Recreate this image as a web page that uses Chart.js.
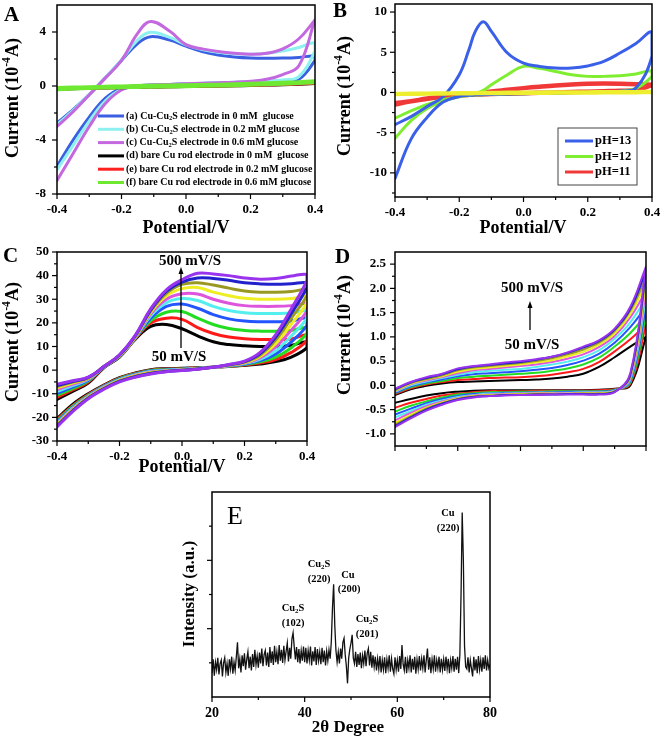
<!DOCTYPE html>
<html>
<head>
<meta charset="utf-8">
<script src="https://cdn.jsdelivr.net/npm/chart.js@4.4.1/dist/chart.umd.min.js"></script>
<style>
  html, body { margin: 0; padding: 0; background: #fff; overflow: hidden; width: 661px; height: 743px; }
  canvas { position: absolute; }
</style>
</head>
<body>
<canvas id="panelA" width="330" height="240" style="left:0;top:0"></canvas>
<canvas id="panelB" width="345" height="240" style="left:330px;top:0"></canvas>
<canvas id="panelC" width="330" height="235" style="left:0;top:240px"></canvas>
<canvas id="panelD" width="345" height="235" style="left:330px;top:240px"></canvas>
<canvas id="panelE" width="330" height="273" style="left:180px;top:470px"></canvas>
<script>
// ---- data ----
// potential grids (V)
const POT_A = [-0.4, -0.35, -0.3, -0.25, -0.2, -0.15, -0.11, -0.05, 0, 0.05, 0.1, 0.15, 0.2, 0.25, 0.3, 0.35, 0.4];
const POT_B = [-0.4, -0.35, -0.3, -0.25, -0.2, -0.17, -0.15, -0.125, -0.1, -0.05, 0, 0.05, 0.1, 0.15, 0.2, 0.25, 0.3, 0.35, 0.4];
const POT_CD = [-0.4, -0.35, -0.3, -0.25, -0.2, -0.15, -0.1, -0.05, 0, 0.05, 0.1, 0.15, 0.2, 0.25, 0.3, 0.35, 0.4];

// panel A: first list runs -0.4 -> 0.4, second list runs 0.4 -> -0.4
const A_LABELS = [
  "(a) Cu-Cu_2S electrode in 0 mM  glucose",
  "(b) Cu-Cu_2S electrode in 0.2 mM glucose",
  "(c) Cu-Cu_2S electrode in 0.6 mM glucose",
  "(d) bare Cu rod electrode in 0 mM  glucose",
  "(e) bare Cu rod electrode in 0.2 mM glucose",
  "(f) bare Cu rod electrode in 0.6 mM glucose"
];
const A_FWD = [
  [-2.74, -1.75, -0.64, 0.6, 1.9, 3.15, 3.65, 3.4, 2.95, 2.55, 2.3, 2.15, 2.07, 2.05, 2.07, 2.12, 2.2],
  [-2.86, -1.8, -0.62, 0.62, 1.95, 3.4, 3.98, 3.6, 3.05, 2.7, 2.5, 2.38, 2.35, 2.42, 2.6, 2.85, 3.2],
  [-3.0, -1.9, -0.65, 0.6, 1.9, 3.9, 4.78, 4.05, 3.06, 2.75, 2.55, 2.42, 2.35, 2.42, 2.75, 3.5, 4.9],
  [-0.25, -0.2, -0.16, -0.12, -0.08, -0.05, -0.03, 0, 0.02, 0.04, 0.06, 0.08, 0.1, 0.12, 0.14, 0.17, 0.2],
  [-0.22, -0.18, -0.14, -0.1, -0.07, -0.04, -0.02, 0.01, 0.03, 0.05, 0.07, 0.09, 0.11, 0.13, 0.15, 0.18, 0.22],
  [-0.15, -0.12, -0.09, -0.06, -0.03, 0.0, 0.02, 0.04, 0.06, 0.08, 0.1, 0.13, 0.16, 0.2, 0.24, 0.28, 0.35]
];
const A_REV = [
  [1.9, 0.5, 0.38, 0.33, 0.3, 0.26, 0.22, 0.18, 0.15, 0.12, 0.07, 0.03, -0.15, -0.9, -2.3, -4.0, -5.95],
  [2.6, 0.7, 0.45, 0.38, 0.33, 0.28, 0.24, 0.2, 0.16, 0.12, 0.07, 0.02, -0.25, -1.1, -2.6, -4.4, -6.2],
  [4.9, 1.5, 0.85, 0.5, 0.35, 0.28, 0.24, 0.2, 0.16, 0.12, 0.07, 0.0, -0.3, -1.3, -3.0, -5.0, -7.0],
  [0.15, 0.1, 0.06, 0.03, 0.0, -0.02, -0.04, -0.06, -0.08, -0.1, -0.12, -0.14, -0.16, -0.18, -0.21, -0.24, -0.28],
  [0.17, 0.11, 0.07, 0.04, 0.01, -0.01, -0.03, -0.05, -0.07, -0.09, -0.11, -0.13, -0.15, -0.17, -0.2, -0.23, -0.27],
  [0.28, 0.22, 0.17, 0.13, 0.09, 0.06, 0.03, 0.01, -0.01, -0.03, -0.05, -0.07, -0.09, -0.12, -0.15, -0.19, -0.24]
];
const A_COLORS = ["#3a5fe0", "#8ff0f0", "#c468e0", "#000000", "#ff2020", "#6ee830"];

// panel B: pH series (last one has no legend entry)
const B_LABELS = ["pH=13", "pH=12", "pH=11", ""];
const B_FWD = [
  [-4.0, -3.0, -1.75, -0.5, 2.2, 5.3, 7.6, 8.8, 7.6, 4.9, 3.65, 3.24, 3.03, 3.03, 3.3, 3.86, 4.9, 6.1, 7.5],
  [-3.2, -2.3, -1.5, -0.9, -0.5, -0.25, -0.1, 0.25, 0.95, 2.2, 3.24, 3.0, 2.6, 2.2, 2.0, 2.0, 2.07, 2.3, 2.7],
  [-1.33, -1.1, -0.75, -0.55, -0.37, -0.25, -0.18, -0.05, 0.12, 0.33, 0.54, 0.72, 0.88, 1.0, 1.08, 1.1, 1.08, 1.03, 0.95],
  [-0.15, -0.14, -0.12, -0.1, -0.08, -0.07, -0.06, -0.05, -0.04, -0.02, 0, 0.01, 0.02, 0.03, 0.04, 0.05, 0.06, 0.07, 0.08]
];
const B_REV = [
  [4.5, 0.55, 0.15, 0.05, 0, 0, -0.05, -0.1, -0.15, -0.2, -0.25, -0.28, -0.3, -0.35, -0.5, -1.2, -3.1, -5.8, -10.7],
  [2.0, 0.5, 0.15, 0.05, 0, -0.05, -0.1, -0.12, -0.15, -0.2, -0.25, -0.28, -0.32, -0.38, -0.55, -1.1, -2.0, -3.5, -5.7],
  [0.9, 0.3, 0.2, 0.15, 0.1, 0.05, 0, -0.05, -0.1, -0.15, -0.2, -0.23, -0.26, -0.3, -0.38, -0.55, -0.8, -1.1, -1.5],
  [0.03, 0.01, -0.01, -0.02, -0.03, -0.04, -0.05, -0.06, -0.07, -0.08, -0.09, -0.1, -0.11, -0.12, -0.13, -0.15, -0.17, -0.19, -0.22]
];
const B_COLORS = ["#3a5fe8", "#80ee30", "#f03838", "#eeee30"];

// panels C and D: scan rates 50 ... 500 mV/s
const SCAN_RATES = [50, 100, 150, 200, 250, 300, 350, 400, 450, 500];
const SCAN_COLORS = ["#000000", "#ff1a1a", "#22dd22", "#2255ff", "#55eeee", "#dd55dd", "#eeee22", "#999922", "#2222cc", "#9933ee"];

// C: lower branch (-0.4 -> 0.4), upper branch (0.4 -> -0.4)
const C_LOWER = [
  [-20.5, -14.5, -10, -6.3, -3.2, -1.2, 0.2, 0.6, 0.8, 1.0, 1.2, 1.5, 2.0, 2.6, 3.6, 5.5, 9.5],
  [-21, -15, -10.3, -6.5, -3.4, -1.4, 0, 0.4, 0.6, 0.9, 1.2, 1.6, 2.2, 3.0, 4.5, 7.5, 12.5],
  [-21.5, -15.4, -10.6, -6.7, -3.6, -1.6, -0.2, 0.2, 0.5, 0.8, 1.2, 1.7, 2.4, 3.5, 5.5, 9.5, 15.5],
  [-22, -15.8, -10.9, -6.9, -3.8, -1.8, -0.4, 0.1, 0.4, 0.8, 1.2, 1.8, 2.6, 4.0, 6.8, 12, 19],
  [-22.4, -16.1, -11.1, -7.1, -4.0, -2.0, -0.6, -0.1, 0.3, 0.7, 1.2, 1.9, 2.8, 4.6, 8.2, 14.5, 22],
  [-22.8, -16.4, -11.3, -7.3, -4.2, -2.2, -0.8, -0.3, 0.2, 0.6, 1.2, 2.0, 3.0, 5.2, 9.8, 17, 25],
  [-23.1, -16.7, -11.5, -7.5, -4.4, -2.4, -1.0, -0.4, 0.1, 0.6, 1.2, 2.1, 3.2, 5.8, 11.3, 19.5, 28.5],
  [-23.4, -17, -11.7, -7.7, -4.6, -2.6, -1.2, -0.5, 0, 0.5, 1.2, 2.2, 3.4, 6.4, 12.8, 22, 31.5],
  [-23.7, -17.3, -11.9, -7.9, -4.8, -2.8, -1.4, -0.6, -0.1, 0.5, 1.2, 2.3, 3.6, 7.0, 14, 24, 35],
  [-24, -17.6, -12.1, -8.1, -5, -3, -1.6, -0.7, -0.2, 0.4, 1.2, 2.4, 3.8, 7.5, 15, 26, 38]
];
const C_UPPER = [
  [12, 10.5, 10, 10, 10.3, 10.8, 12, 14.5, 17.5, 19.3, 18.5, 13, 5.5, 1, -5.5, -9, -12.4],
  [15, 13.2, 13, 13, 13.3, 14, 15.5, 18, 21.5, 22, 20, 13.3, 5.7, 1.2, -5, -8.4, -11.5],
  [18, 16.8, 16.5, 16.5, 16.8, 17.6, 19.3, 22, 24.8, 24.5, 21, 13.5, 5.8, 1.3, -4.6, -7.8, -10.6],
  [22, 20.8, 20.5, 20.5, 20.8, 21.7, 23.5, 26.2, 28, 27, 22, 13.6, 5.9, 1.3, -4.3, -7.2, -9.8],
  [25, 24.2, 24, 24, 24.3, 25.2, 27, 29.5, 30.3, 28.5, 23, 13.7, 6, 1.4, -4, -6.6, -9],
  [28, 27.3, 27, 27, 27.3, 28.3, 30, 32.2, 32.3, 30, 23.8, 13.8, 6.1, 1.4, -3.7, -6, -8.2],
  [31, 30.3, 30, 30, 30.4, 31.5, 33, 35, 34.5, 31.5, 24.5, 14, 6.2, 1.5, -3.5, -5.5, -7.5],
  [34, 33.3, 33, 33, 33.5, 34.7, 36, 37, 36.3, 32.5, 25, 14.2, 6.3, 1.5, -3.3, -5.1, -7],
  [37, 36.6, 36.3, 36.5, 37, 38, 38.8, 39, 37.3, 33.3, 25.5, 14.5, 6.4, 1.5, -3.1, -4.8, -6.5],
  [40.5, 39.8, 38.8, 38.5, 39, 40, 40.7, 41, 38.3, 34, 26, 14.6, 6.5, 1.5, -3, -4.5, -6]
];

// D: upper branch (-0.4 -> 0.4), lower branch (0.4 -> -0.4)
const D_UPPER = [
  [-0.2, -0.08, -0.01, 0.04, 0.07, 0.08, 0.09, 0.1, 0.11, 0.12, 0.14, 0.18, 0.24, 0.38, 0.58, 0.8, 1.0],
  [-0.18, -0.06, 0.02, 0.07, 0.11, 0.13, 0.15, 0.16, 0.17, 0.19, 0.22, 0.27, 0.34, 0.48, 0.7, 0.95, 1.25],
  [-0.16, -0.04, 0.04, 0.09, 0.15, 0.18, 0.2, 0.22, 0.24, 0.26, 0.3, 0.35, 0.43, 0.57, 0.8, 1.08, 1.45],
  [-0.15, -0.02, 0.06, 0.12, 0.19, 0.23, 0.25, 0.27, 0.29, 0.32, 0.36, 0.42, 0.51, 0.65, 0.88, 1.2, 1.62],
  [-0.13, 0, 0.08, 0.15, 0.22, 0.27, 0.3, 0.32, 0.34, 0.38, 0.43, 0.49, 0.58, 0.72, 0.96, 1.3, 1.8],
  [-0.12, 0.02, 0.1, 0.17, 0.25, 0.31, 0.34, 0.37, 0.4, 0.43, 0.48, 0.55, 0.64, 0.79, 1.02, 1.4, 1.95],
  [-0.11, 0.03, 0.12, 0.19, 0.28, 0.34, 0.37, 0.4, 0.43, 0.47, 0.52, 0.6, 0.69, 0.84, 1.07, 1.47, 2.1],
  [-0.1, 0.05, 0.13, 0.21, 0.31, 0.37, 0.4, 0.43, 0.46, 0.5, 0.56, 0.64, 0.74, 0.88, 1.12, 1.54, 2.22],
  [-0.08, 0.06, 0.15, 0.23, 0.33, 0.39, 0.42, 0.45, 0.48, 0.53, 0.59, 0.67, 0.78, 0.91, 1.15, 1.58, 2.35],
  [-0.07, 0.07, 0.17, 0.24, 0.35, 0.4, 0.43, 0.47, 0.5, 0.54, 0.59, 0.68, 0.8, 0.93, 1.17, 1.62, 2.45]
];
const D_LOWER = [
  [1.0, 0.0, -0.07, -0.09, -0.1, -0.1, -0.1, -0.1, -0.1, -0.1, -0.1, -0.11, -0.13, -0.16, -0.21, -0.28, -0.36],
  [1.25, 0.03, -0.08, -0.1, -0.11, -0.11, -0.11, -0.11, -0.12, -0.12, -0.12, -0.14, -0.17, -0.21, -0.28, -0.36, -0.46],
  [1.45, 0.06, -0.09, -0.12, -0.12, -0.12, -0.12, -0.13, -0.13, -0.14, -0.14, -0.16, -0.19, -0.25, -0.33, -0.42, -0.54],
  [1.62, 0.09, -0.1, -0.13, -0.13, -0.13, -0.14, -0.14, -0.15, -0.15, -0.16, -0.18, -0.22, -0.28, -0.37, -0.48, -0.6],
  [1.8, 0.12, -0.11, -0.14, -0.14, -0.15, -0.15, -0.15, -0.16, -0.17, -0.17, -0.2, -0.24, -0.31, -0.4, -0.53, -0.66],
  [1.95, 0.15, -0.12, -0.15, -0.15, -0.16, -0.16, -0.16, -0.17, -0.18, -0.19, -0.21, -0.26, -0.33, -0.43, -0.57, -0.72],
  [2.1, 0.18, -0.12, -0.16, -0.16, -0.17, -0.17, -0.17, -0.18, -0.19, -0.2, -0.22, -0.27, -0.35, -0.46, -0.61, -0.77],
  [2.22, 0.2, -0.13, -0.17, -0.17, -0.18, -0.18, -0.18, -0.19, -0.2, -0.21, -0.23, -0.28, -0.37, -0.48, -0.64, -0.81],
  [2.35, 0.22, -0.13, -0.18, -0.18, -0.18, -0.19, -0.19, -0.2, -0.2, -0.22, -0.24, -0.29, -0.38, -0.5, -0.66, -0.84],
  [2.45, 0.25, -0.14, -0.19, -0.19, -0.19, -0.19, -0.2, -0.2, -0.21, -0.22, -0.25, -0.3, -0.4, -0.52, -0.68, -0.86]
];

// panel E: XRD pattern, 2theta from 20 to 80 in 0.25 degree steps
const XRD_START = 20;
const XRD_STEP = 0.25;
const XRD_INTENSITY = [
  0.70, 1.10, 0.62, 1.02, 0.80, 1.15, 0.66, 0.98, 1.08, 0.60, 1.00, 1.15, 0.72, 0.98, 0.62, 1.10, 0.82, 1.18, 0.68, 1.02,
  0.78, 1.18, 1.60, 0.84, 1.12, 0.72, 1.22, 0.90, 1.28, 0.80, 1.10, 1.32, 0.84, 1.18, 0.78, 1.26, 0.88, 1.38, 0.94, 1.20,
  0.86, 1.30, 0.98, 1.42, 0.90, 1.24, 1.36, 0.92, 1.30, 0.88, 1.46, 1.00, 1.34, 0.94, 1.50, 1.02, 1.32, 0.96, 1.52, 1.06,
  1.38, 1.00, 1.50, 1.08, 1.34, 1.58, 1.04, 1.44, 1.12, 1.70, 1.88, 1.46, 1.10, 1.46, 1.02, 1.40, 0.98, 1.36, 1.06, 1.48,
  1.02, 1.44, 0.98, 1.36, 1.08, 1.48, 0.92, 1.34, 1.04, 1.46, 0.94, 1.40, 1.06, 1.32, 0.96, 1.44, 1.02, 1.36, 0.92, 1.34,
  1.06, 1.38, 1.12, 1.62, 2.60, 3.30, 2.10, 1.36, 1.02, 1.32, 0.98, 1.42, 1.12, 1.60, 1.72, 1.24, 0.90, 0.40, 1.14, 1.40,
  1.58, 1.82, 1.14, 0.98, 1.32, 0.88, 1.26, 0.94, 1.30, 0.84, 1.22, 0.98, 1.36, 0.90, 1.28, 1.42, 0.92, 1.32, 0.86, 1.22,
  0.88, 1.18, 0.78, 1.12, 0.82, 1.20, 0.72, 1.08, 0.80, 1.16, 0.70, 1.10, 0.84, 1.22, 0.74, 1.12, 0.82, 0.68, 1.16, 0.80,
  1.08, 0.74, 1.20, 0.82, 1.52, 0.96, 0.78, 1.18, 0.70, 1.08, 0.84, 1.22, 0.72, 1.12, 0.80, 1.18, 0.68, 1.10, 0.82, 1.20,
  0.78, 1.12, 0.84, 1.22, 0.72, 1.08, 1.42, 0.80, 1.16, 0.70, 1.10, 0.82, 1.22, 0.74, 1.08, 0.84, 1.18, 0.72, 1.12, 0.80,
  1.10, 0.76, 1.18, 0.82, 1.12, 0.70, 1.08, 0.84, 1.20, 0.74, 1.12, 0.80, 1.18, 0.70, 1.25, 3.00, 5.40, 4.00, 1.50, 0.88,
  0.82, 1.16, 0.72, 1.08, 0.84, 0.60, 1.18, 0.78, 1.10, 0.70, 1.20, 0.80, 1.08, 0.74, 1.16, 0.82, 1.22, 0.78, 1.08, 0.84,
  0.95
];

// tick values
const POT_TICKS = [-0.4, -0.2, 0, 0.2, 0.4];
const POT_MINOR = [-0.3, -0.1, 0.1, 0.3];
const A_YTICKS = [-8, -4, 0, 4];
const B_YTICKS = [-10, -5, 0, 5, 10];
const C_YTICKS = [-30, -20, -10, 0, 10, 20, 30, 40, 50];
const D_YTICKS = [-1, -0.5, 0, 0.5, 1, 1.5, 2, 2.5];
const E_XTICKS = [20, 40, 60, 80];

const FONT = '"Liberation Serif", "Times New Roman", serif';
Chart.defaults.font.family = FONT;
Chart.defaults.color = "#000";

// ---- helpers ----
function loop(grid, first, second) {
  const n = grid.length;
  return first.map((v, i) => ({ x: grid[i], y: v }))
    .concat(second.map((v, i) => ({ x: grid[n - 1 - i], y: v })));
}

// "_2" -> subscript, "^-4" -> superscript
function segs(str) {
  const out = [];
  const re = /(_\d+|\^-?\d+)/g;
  let last = 0, m;
  while ((m = re.exec(str))) {
    if (m.index > last) out.push([str.slice(last, m.index)]);
    out.push([m[0].slice(1), m[0][0] === "_" ? "sub" : "sup"]);
    last = re.lastIndex;
  }
  if (last < str.length) out.push([str.slice(last)]);
  return out;
}

function drawRich(ctx, str, x, y, size, align, weight) {
  const w = weight || "bold";
  const parts = segs(str).map(([t, k]) => {
    const fs = k ? size * 0.65 : size;
    ctx.font = `${w} ${fs}px ${FONT}`;
    return { t, k, fs, w: ctx.measureText(t).width };
  });
  const total = parts.reduce((s, p) => s + p.w, 0);
  let cx = align === "left" ? x : x - total / 2;
  ctx.textAlign = "left";
  ctx.textBaseline = "middle";
  parts.forEach(p => {
    ctx.font = `${w} ${p.fs}px ${FONT}`;
    const dy = p.k === "sup" ? -size * 0.32 : p.k === "sub" ? size * 0.28 : 0;
    ctx.fillText(p.t, cx, y + dy);
    cx += p.w;
  });
}

// frame, outward tick marks, titles, legend and notes
const panelPlugin = {
  id: "panel",
  afterDraw(chart, _args, o) {
    const ctx = chart.ctx, a = chart.chartArea;
    const sx = chart.scales.x, sy = chart.scales.y;
    ctx.save();
    ctx.strokeStyle = "#000";
    ctx.fillStyle = "#000";
    ctx.lineWidth = 1.5;
    ctx.strokeRect(a.left, a.top, a.right - a.left, a.bottom - a.top);

    ctx.lineWidth = 1.2;
    const marks = (scale, vals, len, horiz) => {
      (vals || []).forEach(v => {
        const p = scale.getPixelForValue(v);
        ctx.beginPath();
        if (horiz) { ctx.moveTo(p, a.bottom); ctx.lineTo(p, a.bottom + len); }
        else { ctx.moveTo(a.left, p); ctx.lineTo(a.left - len, p); }
        ctx.stroke();
      });
    };
    marks(sx, o.xMajor, 5, true);
    marks(sx, o.xMinor, 3, true);
    marks(sy, o.yMajor, 5, false);
    marks(sy, o.yMinor, 3, false);

    if (o.letter) {
      const L = o.letter;
      ctx.font = `${L.weight || "bold"} ${L.size}px ${FONT}`;
      ctx.textAlign = "left";
      ctx.textBaseline = "middle";
      ctx.fillText(L.text, L.x, L.y);
    }
    if (o.xTitle) drawRich(ctx, o.xTitle.text, o.xTitle.x, o.xTitle.y, o.xTitle.size, "center");
    if (o.yTitle) {
      ctx.save();
      ctx.translate(o.yTitle.x, o.yTitle.y);
      ctx.rotate(-Math.PI / 2);
      drawRich(ctx, o.yTitle.text, 0, 0, o.yTitle.size, "center");
      ctx.restore();
    }
    if (o.legend) {
      const L = o.legend;
      if (L.box) {
        ctx.strokeStyle = "#444";
        ctx.lineWidth = 1;
        ctx.strokeRect(L.box[0], L.box[1], L.box[2], L.box[3]);
      }
      L.items.forEach((idx, i) => {
        const ds = chart.data.datasets[idx];
        const yy = L.y0 + i * L.dy;
        ctx.strokeStyle = ds.borderColor;
        ctx.lineWidth = L.lw;
        ctx.beginPath();
        ctx.moveTo(L.x0, yy);
        ctx.lineTo(L.x1, yy);
        ctx.stroke();
        ctx.fillStyle = "#000";
        drawRich(ctx, ds.label, L.tx, yy, L.size, "left");
      });
    }
    (o.notes || []).forEach(n => {
      ctx.fillStyle = "#000";
      drawRich(ctx, n.text, n.x, n.y, n.size, "center");
    });
    (o.arrows || []).forEach(ar => {
      ctx.strokeStyle = "#000";
      ctx.fillStyle = "#000";
      ctx.lineWidth = 1.3;
      ctx.beginPath();
      ctx.moveTo(ar.x, ar.y1);
      ctx.lineTo(ar.x, ar.y2 + 4);
      ctx.stroke();
      ctx.beginPath();
      ctx.moveTo(ar.x, ar.y2);
      ctx.lineTo(ar.x - 2.5, ar.y2 + 7);
      ctx.lineTo(ar.x + 2.5, ar.y2 + 7);
      ctx.closePath();
      ctx.fill();
    });
    ctx.restore();
  }
};

function axis(a, dir) {
  return {
    type: "linear",
    min: a.min,
    max: a.max,
    grid: { display: false, drawTicks: false },
    border: { display: false },
    ticks: {
      display: a.show !== false,
      padding: a.pad,
      autoSkip: false,
      maxRotation: 0,
      minRotation: 0,
      color: "#000",
      font: { size: a.size || 13, weight: "bold", family: FONT },
      callback: v => a.fmt(v)
    },
    afterBuildTicks: s => { s.ticks = a.ticks.map(v => ({ value: v })); },
    afterFit: s => {
      if (dir === "x") s.height = a.band; else s.width = a.band;
      s.paddingTop = 0; s.paddingBottom = 0; s.paddingLeft = 0; s.paddingRight = 0;
    }
  };
}

function makeChart(id, spec) {
  return new Chart(document.getElementById(id), {
    type: "scatter",
    data: { datasets: spec.datasets },
    options: {
      responsive: false,
      animation: false,
      events: [],
      layout: { padding: spec.pad },
      elements: { point: { radius: 0 } },
      plugins: { legend: { display: false }, tooltip: { enabled: false }, panel: spec.panel },
      scales: { x: axis(spec.x, "x"), y: axis(spec.y, "y") }
    },
    plugins: [panelPlugin]
  });
}

function cvSet(label, pts, color, width, order) {
  return {
    label, data: pts, showLine: true, borderColor: color, borderWidth: width,
    tension: 0.4, pointRadius: 0, order, borderJoinStyle: "round", borderCapStyle: "round"
  };
}

const fmt1 = v => Number(v).toFixed(1);
const fmt0 = v => String(v);
const A_WIDTHS = [3, 3, 3, 2, 2, 4];
const A_ORDER = [6, 5, 4, 3, 2, 1];
const B_WIDTHS = [3, 3, 4.5, 4];
const B_ORDER = [2, 3, 4, 1];

// ---- panel A ----
makeChart("panelA", {
  pad: { left: 0, top: 5, right: 15, bottom: 0 },
  datasets: A_LABELS.map((lab, i) => cvSet(lab, loop(POT_A, A_FWD[i], A_REV[i]), A_COLORS[i], A_WIDTHS[i], A_ORDER[i])),
  x: { min: -0.4, max: 0.4, ticks: POT_TICKS, fmt: fmt1, band: 46, pad: 8 },
  y: { min: -8, max: 6, ticks: A_YTICKS, fmt: fmt0, band: 57, pad: 11 },
  panel: {
    xMajor: POT_TICKS, xMinor: POT_MINOR, yMajor: A_YTICKS, yMinor: [-6, -2, 2],
    letter: { text: "A", x: 4, y: 16, size: 21 },
    xTitle: { text: "Potential/V", x: 186, y: 228, size: 18 },
    yTitle: { text: "Current (10^-4A)", x: 13, y: 98, size: 18 },
    legend: { items: [0, 1, 2, 3, 4, 5], x0: 98, x1: 124, tx: 126, y0: 116, dy: 13.3, size: 10, lw: 3 }
  }
});

// ---- panel B ----
makeChart("panelB", {
  pad: { left: 0, top: 4, right: 23, bottom: 0 },
  datasets: B_LABELS.map((lab, i) => cvSet(lab, loop(POT_B, B_FWD[i], B_REV[i]), B_COLORS[i], B_WIDTHS[i], B_ORDER[i])),
  x: { min: -0.4, max: 0.4, ticks: POT_TICKS, fmt: fmt1, band: 43, pad: 8 },
  y: { min: -13, max: 11, ticks: B_YTICKS, fmt: fmt0, band: 65, pad: 8 },
  panel: {
    xMajor: POT_TICKS, xMinor: POT_MINOR, yMajor: B_YTICKS, yMinor: [-12.5, -7.5, -2.5, 2.5, 7.5],
    letter: { text: "B", x: 3, y: 12, size: 21 },
    xTitle: { text: "Potential/V", x: 193, y: 228, size: 18 },
    yTitle: { text: "Current (10^-4A)", x: 15, y: 96, size: 18 },
    legend: { items: [0, 1, 2], box: [228, 128, 79, 57], x0: 235, x1: 263, tx: 265, y0: 141, dy: 15.5, size: 12.5, lw: 3 }
  }
});

// ---- panel C ----
makeChart("panelC", {
  pad: { left: 0, top: 12, right: 23, bottom: 0 },
  datasets: SCAN_RATES.map((r, i) => cvSet(r + " mV/s", loop(POT_CD, C_LOWER[i], C_UPPER[i]), SCAN_COLORS[i], 3, SCAN_RATES.length - i)),
  x: { min: -0.4, max: 0.4, ticks: POT_TICKS, fmt: fmt1, band: 34, pad: 8 },
  y: { min: -30, max: 50, ticks: C_YTICKS, fmt: fmt0, band: 57, pad: 8 },
  panel: {
    xMajor: POT_TICKS, xMinor: POT_MINOR, yMajor: C_YTICKS, yMinor: [-25, -15, -5, 5, 15, 25, 35, 45],
    letter: { text: "C", x: 3, y: 17, size: 21 },
    xTitle: { text: "Potential/V", x: 182, y: 227, size: 18 },
    yTitle: { text: "Current (10^-4A)", x: 13, y: 102, size: 18 },
    notes: [
      { text: "500 mV/S", x: 190, y: 21, size: 15 },
      { text: "50 mV/S", x: 179, y: 117, size: 15 }
    ],
    arrows: [{ x: 181, y1: 108, y2: 27 }]
  }
});

// ---- panel D ----
makeChart("panelD", {
  pad: { left: 0, top: 12, right: 29, bottom: 0 },
  datasets: SCAN_RATES.map((r, i) => cvSet(r + " mV/s", loop(POT_CD, D_UPPER[i], D_LOWER[i]), SCAN_COLORS[i], 2, SCAN_RATES.length - i)),
  x: { min: -0.4, max: 0.4, ticks: POT_TICKS, fmt: fmt1, band: 29, pad: 8, show: false },
  y: { min: -1.25, max: 2.75, ticks: D_YTICKS, fmt: fmt1, band: 65, pad: 9 },
  panel: {
    xMajor: POT_TICKS, xMinor: POT_MINOR, yMajor: D_YTICKS, yMinor: [-0.75, -0.25, 0.25, 0.75, 1.25, 1.75, 2.25],
    letter: { text: "D", x: 5, y: 18, size: 21 },
    yTitle: { text: "Current (10^-4A)", x: 15, y: 95, size: 18 },
    notes: [
      { text: "500 mV/S", x: 202, y: 48, size: 15 },
      { text: "50 mV/S", x: 202, y: 105, size: 15 }
    ],
    arrows: [{ x: 200, y1: 90, y2: 61 }]
  }
});

// ---- panel E ----
makeChart("panelE", {
  pad: { left: 0, top: 22, right: 20, bottom: 0 },
  datasets: [{
    label: "XRD",
    data: XRD_INTENSITY.map((v, i) => ({ x: XRD_START + i * XRD_STEP, y: v })),
    showLine: true, borderColor: "#111", borderWidth: 1.3, tension: 0, pointRadius: 0
  }],
  x: { min: 20, max: 80, ticks: E_XTICKS, fmt: fmt0, band: 46, pad: 8, size: 14 },
  y: { min: 0, max: 6, ticks: [], fmt: fmt0, band: 32, pad: 4, show: false },
  panel: {
    xMajor: E_XTICKS, xMinor: [30, 50, 70], yMajor: [2, 4], yMinor: [1, 3, 5],
    letter: { text: "E", x: 47, y: 47, size: 26, weight: "normal" },
    xTitle: { text: "2θ Degree", x: 168, y: 258, size: 17 },
    yTitle: { text: "Intensity (a.u.)", x: 10, y: 124, size: 17 },
    notes: [
      { text: "Cu_2S", x: 113, y: 138, size: 10.5 }, { text: "(102)", x: 113, y: 153, size: 10.5 },
      { text: "Cu_2S", x: 139, y: 94, size: 10.5 }, { text: "(220)", x: 139, y: 109, size: 10.5 },
      { text: "Cu", x: 168, y: 105, size: 10.5 }, { text: "(200)", x: 169, y: 119, size: 10.5 },
      { text: "Cu_2S", x: 187, y: 149, size: 10.5 }, { text: "(201)", x: 187, y: 164, size: 10.5 },
      { text: "Cu", x: 268, y: 43, size: 10.5 }, { text: "(220)", x: 268, y: 58, size: 10.5 }
    ]
  }
});
</script>
</body>
</html>
